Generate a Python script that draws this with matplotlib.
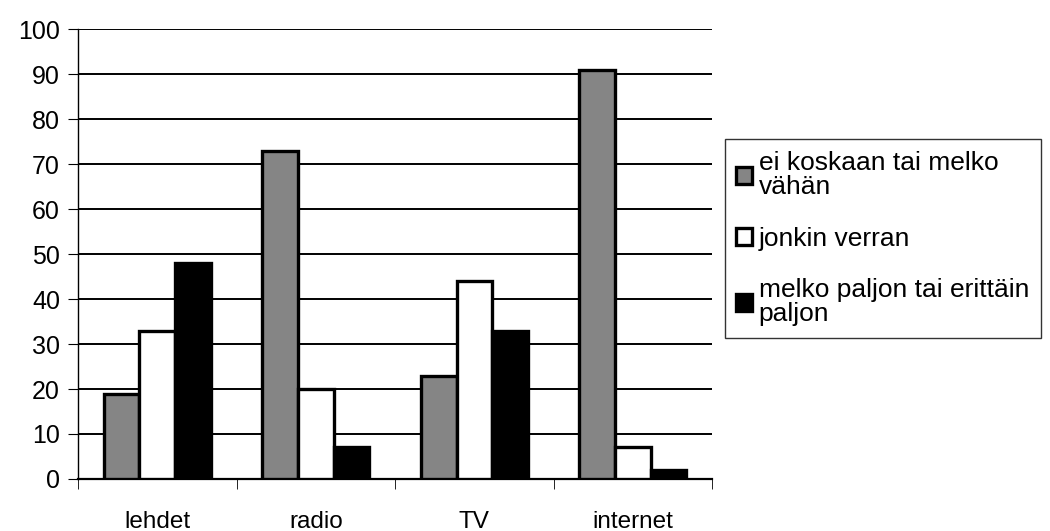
import matplotlib.pyplot as plt
import numpy as np

plt.rcParams['font.family'] = ['Liberation Sans', 'DejaVu Sans']

categories = ['lehdet', 'radio', 'TV', 'internet']
series_names = ['ei koskaan tai melko\nvähän', 'jonkin verran', 'melko paljon tai erittäin\npaljon']
ei_koskaan = [19, 73, 23, 91]
jonkin_verran = [33, 20, 44, 7]
melko_paljon = [48, 7, 33, 2]

fig = plt.figure(figsize=(10.5, 5.31), dpi=100)
ax = fig.add_axes([0.0743, 0.098, 0.604, 0.847])

x = np.arange(len(categories))
w = 0.225
colors = ['#858585', 'white', 'black']
handles = []
for i, (vals, col, name) in enumerate(zip([ei_koskaan, jonkin_verran, melko_paljon], colors, series_names)):
    b = ax.bar(x + (i - 1) * w, vals, w, color=col, edgecolor='black', linewidth=2.4,
               label=name, zorder=3)
    handles.append(b)

ax.set_ylim(0, 100)
ax.set_xlim(-0.5, 3.5)
ax.set_yticks(range(0, 101, 10))
ax.yaxis.grid(True, color='black', linewidth=1.4, zorder=0)
ax.set_xticks(x)
ax.set_xticklabels(categories)
ax.set_xticks(np.arange(-0.5, 4, 1), minor=True)
ax.tick_params(axis='x', which='major', length=0, pad=23, labelsize=17.5)
ax.tick_params(axis='x', which='minor', length=7, direction='out')
ax.tick_params(axis='y', length=7, labelsize=18, pad=6)
for s in ['top', 'right']:
    ax.spines[s].set_visible(False)
ax.spines['left'].set_linewidth(1.0)
ax.spines['bottom'].set_linewidth(1.6)

leg = fig.legend(handles=handles, labels=series_names, loc='upper left',
                 bbox_to_anchor=(0.69, 0.738), fontsize=19, frameon=True,
                 fancybox=False, edgecolor='black', handlelength=0.6,
                 handleheight=0.6, handletextpad=0.25, labelspacing=1.05,
                 borderpad=0.45, borderaxespad=0)
leg.get_frame().set_linewidth(1.0)
for t in leg.get_texts():
    t.set_linespacing(1.0)

fig.savefig('out.png', dpi=100)
